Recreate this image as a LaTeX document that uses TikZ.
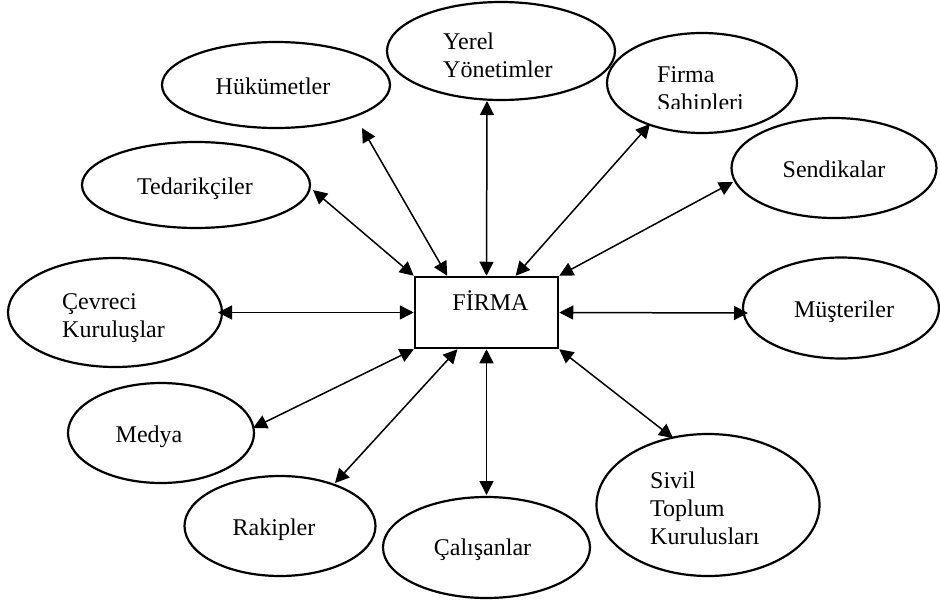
\documentclass[tikz,border=0pt]{standalone}
\usepackage{fontspec}
\setmainfont{Liberation Serif}
\usetikzlibrary{shapes.geometric,arrows.meta,calc}
\begin{document}
\begin{tikzpicture}[x=1pt,y=-1pt,
  party/.style={draw,ellipse,line width=2.2pt,inner sep=0pt},
  lbl/.style={inner sep=0pt,font=\fontsize{24}{28}\selectfont},
  mlbl/.style={inner sep=0pt,font=\fontsize{24}{28}\selectfont,align=left,anchor=base west},
  link/.style={line width=1.5pt,{Triangle[length=14pt,width=14pt]}-{Triangle[length=14pt,width=14pt]}},
  firmbox/.style={draw,rectangle,line width=2.5pt,inner sep=0pt}]
\useasboundingbox (0,0) rectangle (940,605);
% ellipses
\node[party,minimum width=228pt,minimum height=86pt] (huk) at (276,85) {};
\node[party,minimum width=228pt,minimum height=98pt] (yerel) at (501,51) {};
\node[party,minimum width=190pt,minimum height=100pt] (sahip) at (702,83) {};
\node[party,minimum width=205pt,minimum height=100pt] (send) at (834,168) {};
\node[party,minimum width=228pt,minimum height=86pt] (ted) at (196,185) {};
\node[party,minimum width=214pt,minimum height=109pt] (cev) at (115,312.5) {};
\node[party,minimum width=196pt,minimum height=101pt] (mus) at (841,308) {};
\node[party,minimum width=186pt,minimum height=100pt] (medya) at (161,433) {};
\node[party,minimum width=191pt,minimum height=100pt] (rak) at (280,526) {};
\node[party,minimum width=207pt,minimum height=101pt] (cal) at (486.5,547.5) {};
\node[party,minimum width=223pt,minimum height=142pt] (sivil) at (708,505) {};
\node[firmbox,minimum width=143pt,minimum height=71pt] (firma) at (486.5,312.5) {};
% labels
\node[lbl,anchor=base] (thuk) at (273,94) {Hükümetler};
\node[mlbl] (tyerel) at (443,77) {Yerel\\Yönetimler};
\begin{scope}
\clip (600,20) rectangle (800,108.5);
\node[mlbl] (tsahip) at (657,110) {Firma\\Sahipleri};
\end{scope}
\node[lbl,anchor=base] (tsend) at (834,177) {Sendikalar};
\node[lbl,anchor=base] (tted) at (195,194) {Tedarikçiler};
\node[mlbl] (tcev) at (62,337) {Çevreci\\Kuruluşlar};
\node[lbl,anchor=base] (tmus) at (844,317) {Müşteriler};
\node[lbl,anchor=base] (tmedya) at (149,442) {Medya};
\node[lbl,anchor=base] (trak) at (274,535) {Rakipler};
\node[lbl,anchor=base] (tcal) at (482.5,555) {Çalışanlar};
\node[mlbl] (tsivil) at (650,544) {Sivil\\Toplum\\Kurulusları};
\node[lbl,anchor=base] (tfirma) at (490.5,310) {FİRMA};
% connectors
\draw[link] ([shift={(86,43)}]huk.center) -- ($(firma.north west)!0.23!(firma.north east)$);
\draw[link] ([shift={(-14,50)}]yerel.center) -- (firma.north);
\draw[link] ([shift={(-52,41)}]sahip.center) -- ($(firma.north west)!0.70!(firma.north east)$);
\draw[link] ([shift={(-101,14)}]send.center) -- (firma.north east);
\draw[link] ([shift={(117,5)}]ted.center) -- (firma.north west);
\draw[link] ([shift={(103,0)}]cev.center) -- (firma.west);
\draw[link] ([shift={(-93,5)}]mus.center) -- (firma.east);
\draw[link] ([shift={(92,-5)}]medya.center) -- (firma.south west);
\draw[link] ([shift={(55,-43)}]rak.center) -- ($(firma.south west)!0.30!(firma.south east)$);
\draw[link] ([shift={(0,-52.5)}]cal.center) -- (firma.south);
\draw[link] ([shift={(-35,-67)}]sivil.center) -- (firma.south east);
\end{tikzpicture}
\end{document}
